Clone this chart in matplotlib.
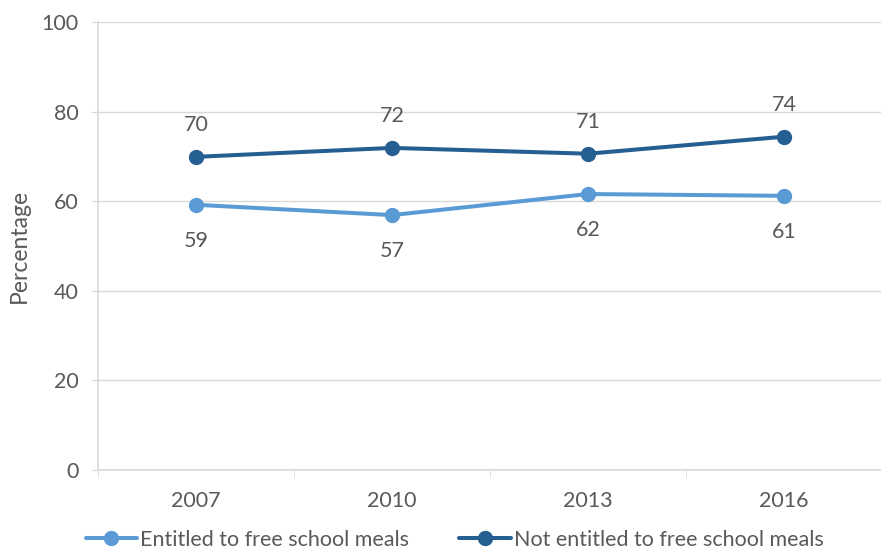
import matplotlib

matplotlib.use("Agg")
import matplotlib.pyplot as plt
from matplotlib.ticker import FixedLocator

plt.rcParams["font.family"] = ["Lato", "DejaVu Sans"]

years = ["2007", "2010", "2013", "2016"]
entitled = [59.2, 56.9, 61.6, 61.2]
not_entitled = [69.9, 71.9, 70.6, 74.4]
y_ticks = [0, 20, 40, 60, 80, 100]

light_blue = "#5B9BD5"
dark_blue = "#255E91"
text_grey = "#595959"
grid_grey = "#D9D9D9"
fs = 15.5

fig = plt.figure(figsize=(8.81, 5.54), dpi=100)
ax = fig.add_axes([98 / 881, 84 / 554, 784 / 881, 448 / 554])

x = list(range(len(years)))
ax.plot(x, entitled, color=light_blue, lw=2.9, marker="o", ms=10,
        label="Entitled to free school meals", solid_capstyle="round")
ax.plot(x, not_entitled, color=dark_blue, lw=2.9, marker="o", ms=10,
        label="Not entitled to free school meals", solid_capstyle="round")

# value labels: above the upper line, below the lower one
for xi, v in zip(x, not_entitled):
    ax.annotate(f"{v:.0f}", (xi, v), xytext=(0, 23), textcoords="offset points",
                ha="center", va="center", fontsize=fs, color=text_grey)
for xi, v in zip(x, entitled):
    ax.annotate(f"{v:.0f}", (xi, v), xytext=(0, -26), textcoords="offset points",
                ha="center", va="center", fontsize=fs, color=text_grey)

ax.set_xlim(-0.5, len(years) - 0.5)
ax.set_ylim(0, 100)
ax.set_yticks(y_ticks)
ax.set_xticks(x)
ax.set_xticklabels(years)
ax.xaxis.set_minor_locator(FixedLocator([i - 0.5 for i in range(len(years) + 1)]))

ax.grid(axis="y", color=grid_grey, lw=1)
ax.set_axisbelow(True)
for side in ("top", "right"):
    ax.spines[side].set_visible(False)
for side in ("left", "bottom"):
    ax.spines[side].set_color(grid_grey)
    ax.spines[side].set_linewidth(1.2)

ax.tick_params(axis="y", length=5, color=grid_grey, pad=9, labelsize=fs, labelcolor=text_grey)
ax.tick_params(axis="x", which="major", length=0, pad=15, labelsize=fs, labelcolor=text_grey)
ax.tick_params(axis="x", which="minor", length=5, color=grid_grey)

ax.set_ylabel("Percentage", fontsize=16.5, color=text_grey, labelpad=8)

fig.legend(loc="lower center", bbox_to_anchor=(0.516, -0.027), ncol=2, frameon=False,
           fontsize=fs, labelcolor=text_grey, handlelength=2.4, handletextpad=0.15,
           columnspacing=2.3)

fig.savefig("out.png", dpi=100)
plt.close(fig)
